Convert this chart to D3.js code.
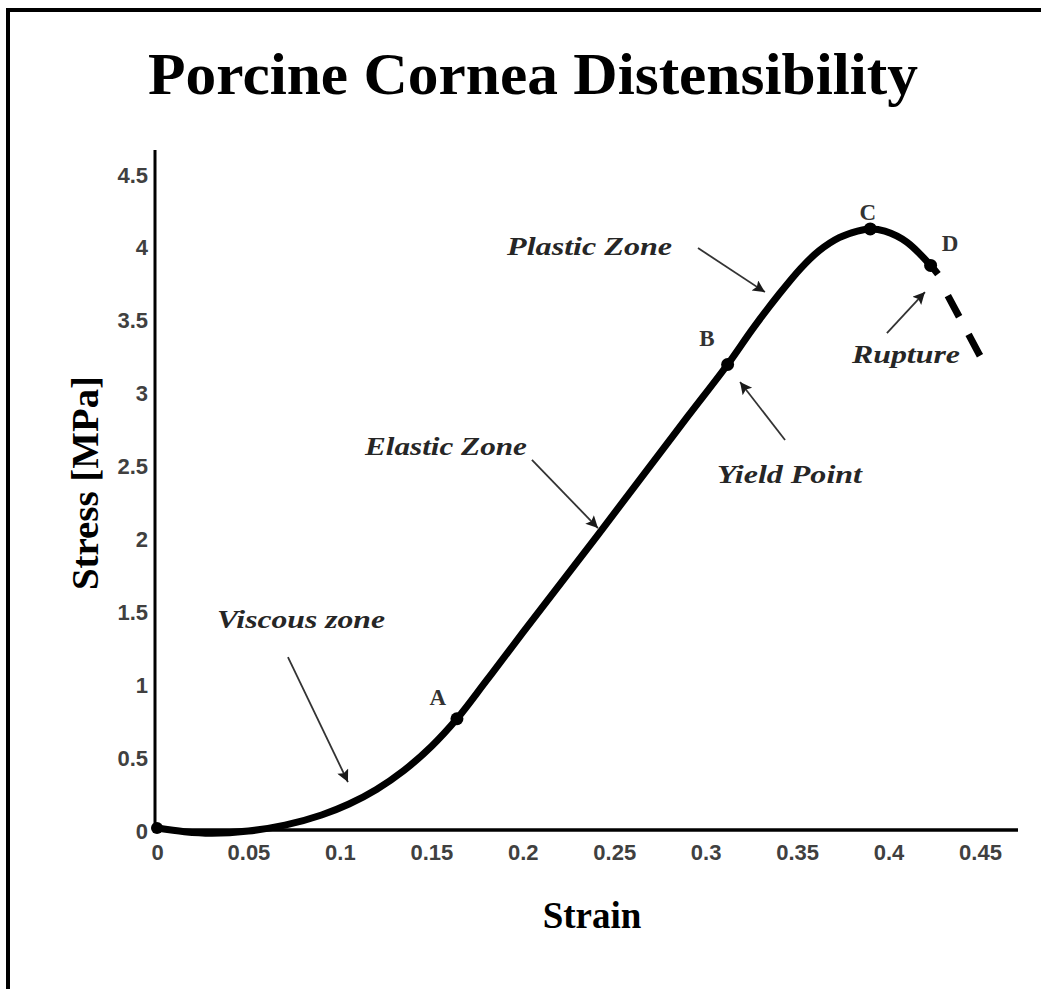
<!DOCTYPE html>
<html>
<head>
<meta charset="utf-8">
<script src="https://cdn.jsdelivr.net/npm/d3@7"></script>
<style>
  html, body { margin: 0; padding: 0; background: #fff; }
  svg { display: block; }
</style>
</head>
<body>
<svg id="chart" width="1041" height="989"></svg>
<script>
// ---- Data ----
const strain = [0, 0.015, 0.03, 0.05, 0.07, 0.09, 0.105, 0.12, 0.135, 0.15, 0.164, 0.18, 0.2, 0.241, 0.27, 0.29, 0.312, 0.326, 0.34, 0.352, 0.362, 0.373, 0.383, 0.39, 0.398, 0.41, 0.423, 0.427];
const stress = [0.02, -0.005, -0.015, 0.0, 0.04, 0.11, 0.185, 0.285, 0.415, 0.58, 0.77, 1.03, 1.36, 2.03, 2.51, 2.84, 3.20, 3.45, 3.68, 3.86, 3.98, 4.07, 4.115, 4.13, 4.115, 4.04, 3.88, 3.82];
const ruptureStrain = [0.427, 0.45];
const ruptureStress = [3.80, 3.26];
const pointLabels = ["A", "B", "C", "D"];
const pointStrain = [0.164, 0.312, 0.39, 0.423];
const pointStress = [0.77, 3.20, 4.13, 3.88];
const xTicks = [0, 0.05, 0.1, 0.15, 0.2, 0.25, 0.3, 0.35, 0.4, 0.45];
const yTicks = [0, 0.5, 1, 1.5, 2, 2.5, 3, 3.5, 4, 4.5];
const zoneLabels = ["Viscous zone", "Elastic Zone", "Plastic Zone", "Yield Point", "Rupture"];
const zoneTextAt = [[0.0328, 1.392], [0.1137, 2.579], [0.1914, 3.951], [0.3062, 2.387], [0.380, 3.210]];
const zoneArrowFrom = [[0.0716, 1.193], [0.2050, 2.545], [0.2958, 3.999], [0.3434, 2.682], [0.3991, 3.416]];
const zoneArrowTo = [[0.1044, 0.336], [0.2411, 2.078], [0.3324, 3.697], [0.3188, 3.080], [0.4199, 3.697]];
const labelAt = [[0.1536, 0.919], [0.3007, 3.381], [0.3887, 4.245], [0.4336, 4.033]];

const svg = d3.select("#chart");

// frame
svg.append("rect").attr("x", 8).attr("y", 10).attr("width", 1200).attr("height", 1200)
  .attr("fill", "none").attr("stroke", "#000").attr("stroke-width", 4);

// title
svg.append("text").attr("x", 533).attr("y", 94).attr("text-anchor", "middle")
  .attr("font-family", "'Liberation Serif', serif").attr("font-weight", "bold")
  .attr("font-size", 60).attr("textLength", 770).attr("lengthAdjust", "spacingAndGlyphs")
  .attr("fill", "#000").text("Porcine Cornea Distensibility");

const x = d3.scaleLinear().domain([0, 0.45]).range([157, 980]);
const y = d3.scaleLinear().domain([0, 4.5]).range([831, 175]);

// axis lines
svg.append("line").attr("x1", 155).attr("x2", 155).attr("y1", 150).attr("y2", 831)
  .attr("stroke", "#000").attr("stroke-width", 3);
svg.append("line").attr("x1", 154).attr("x2", 1018).attr("y1", 830).attr("y2", 830)
  .attr("stroke", "#000").attr("stroke-width", 3.5);

const fmt = d => String(d);
const xAxis = svg.append("g").attr("transform", "translate(0,830)")
  .call(d3.axisBottom(x).tickValues(xTicks).tickFormat(fmt).tickSize(0).tickPadding(14));
const yAxis = svg.append("g").attr("transform", "translate(155,0)")
  .call(d3.axisLeft(y).tickValues(yTicks).tickFormat(fmt).tickSize(0).tickPadding(7));
[xAxis, yAxis].forEach(g => {
  g.select(".domain").remove();
  g.selectAll("text").attr("font-family", "'Liberation Sans', Arial, sans-serif")
    .attr("font-size", 22).attr("font-weight", "bold").attr("fill", "#404040");
});

// axis titles
svg.append("text").attr("x", 592).attr("y", 928).attr("text-anchor", "middle")
  .attr("font-family", "'Liberation Serif', serif").attr("font-weight", "bold")
  .attr("font-size", 37).attr("fill", "#000").text("Strain");
svg.append("text").attr("transform", "translate(98,483) rotate(-90)").attr("text-anchor", "middle")
  .attr("font-family", "'Liberation Serif', serif").attr("font-weight", "bold")
  .attr("font-size", 37).attr("textLength", 214).attr("lengthAdjust", "spacingAndGlyphs")
  .attr("fill", "#000").text("Stress [MPa]");

// curve
const pts = strain.map((s, i) => [s, stress[i]]);
const line = d3.line().x(d => x(d[0])).y(d => y(d[1])).curve(d3.curveCatmullRom.alpha(0.5));
svg.append("path").attr("d", line(pts)).attr("fill", "none")
  .attr("stroke", "#000").attr("stroke-width", 7).attr("stroke-linejoin", "round");

// rupture dashed
const rpts = ruptureStrain.map((s, i) => [s, ruptureStress[i]]);
svg.append("path").attr("d", d3.line().x(d => x(d[0])).y(d => y(d[1]))(rpts))
  .attr("fill", "none").attr("stroke", "#000").attr("stroke-width", 7)
  .attr("stroke-dasharray", "0,21,24,20,22");

// point dots
svg.append("circle").attr("cx", x(0)).attr("cy", y(0.02)).attr("r", 6).attr("fill", "#000");
svg.selectAll("circle.pt").data(pointLabels).enter().append("circle").attr("class", "pt")
  .attr("cx", (d, i) => x(pointStrain[i])).attr("cy", (d, i) => y(pointStress[i]))
  .attr("r", 6.5).attr("fill", "#000");

// point letters
svg.selectAll("text.pl").data(pointLabels).enter().append("text").attr("class", "pl")
  .attr("x", (d, i) => x(labelAt[i][0])).attr("y", (d, i) => y(labelAt[i][1]) + 8)
  .attr("text-anchor", "middle").attr("font-family", "'Liberation Serif', serif")
  .attr("font-weight", "bold").attr("font-size", 23).attr("fill", "#333").text(d => d);

// arrows
const defs = svg.append("defs");
defs.append("marker").attr("id", "ah").attr("viewBox", "0 0 10 10").attr("refX", 10).attr("refY", 5)
  .attr("markerWidth", 18).attr("markerHeight", 12).attr("markerUnits", "userSpaceOnUse")
  .attr("orient", "auto")
  .append("path").attr("d", "M0,0 L10,5 L0,10 L2,5 Z").attr("fill", "#1a1a1a");

svg.selectAll("line.arr").data(zoneLabels).enter().append("line").attr("class", "arr")
  .attr("x1", (d, i) => x(zoneArrowFrom[i][0])).attr("y1", (d, i) => y(zoneArrowFrom[i][1]))
  .attr("x2", (d, i) => x(zoneArrowTo[i][0])).attr("y2", (d, i) => y(zoneArrowTo[i][1]))
  .attr("stroke", "#333").attr("stroke-width", 1.8).attr("marker-end", "url(#ah)");

// zone labels
const zoneWidths = [168, 162, 165, 145, 108];
svg.selectAll("text.zl").data(zoneLabels).enter().append("text").attr("class", "zl")
  .attr("x", (d, i) => x(zoneTextAt[i][0])).attr("y", (d, i) => y(zoneTextAt[i][1]))
  .attr("font-family", "'Liberation Serif', serif").attr("font-weight", "bold")
  .attr("font-style", "italic").attr("font-size", 26).attr("fill", "#262626")
  .attr("textLength", (d, i) => zoneWidths[i]).attr("lengthAdjust", "spacingAndGlyphs")
  .text(d => d);
</script>
</body>
</html>
